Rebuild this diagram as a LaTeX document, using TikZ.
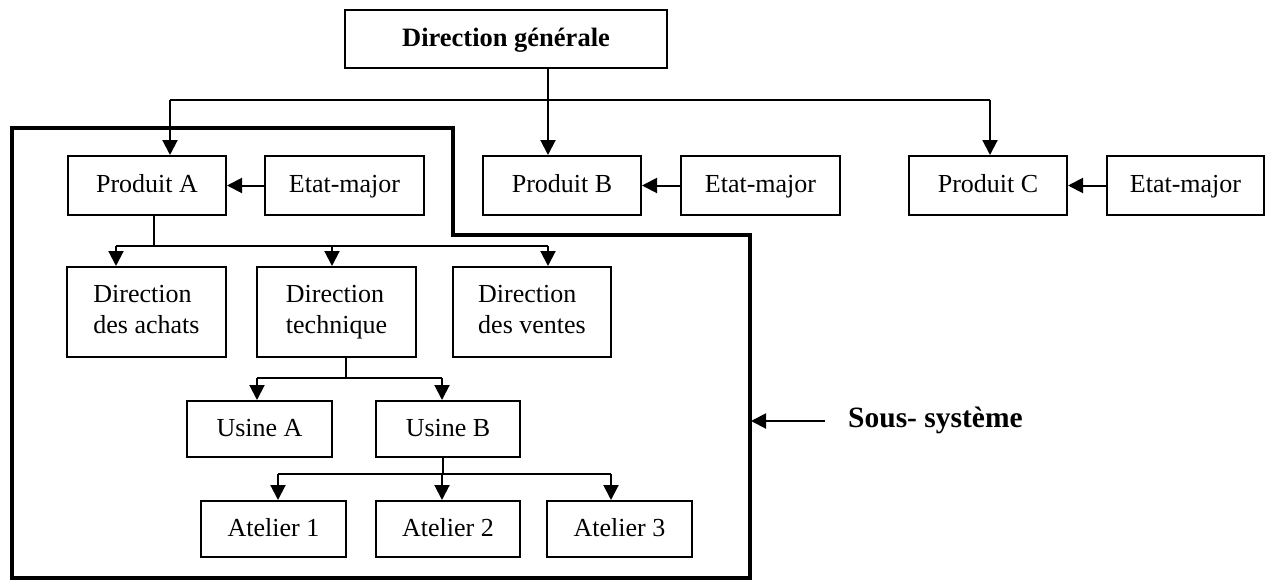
\documentclass[tikz,border=0pt]{standalone}
\usepackage{fontspec}
\setmainfont{Liberation Serif}
\usetikzlibrary{arrows.meta}
\tikzset{
  box/.style={draw, line width=2pt, rectangle, inner sep=0pt, align=left,
    font=\fontsize{26}{31}\selectfont},
  one/.style={box, text height=18pt, text depth=4pt},
  conn/.style={line width=2pt},
  arr/.style={line width=2pt, -{Triangle[length=15pt,width=15pt]}},
  frame/.style={line width=4pt, line join=miter},
}
\begin{document}
\begin{tikzpicture}[x=1pt,y=-1pt]
\useasboundingbox (0,0) rectangle (1265,581);
% top
\node[one, minimum width=322pt, minimum height=58pt, font=\fontsize{26.5}{31}\selectfont\bfseries] (dg) at (506,39) {Direction générale};
\node[one, minimum width=158pt, minimum height=59pt] (pa) at (147,185.5) {Produit A};
\node[one, minimum width=159pt, minimum height=59pt] (ea) at (344.5,185.5) {Etat-major};
\node[one, minimum width=158pt, minimum height=59pt] (pb) at (562,185.5) {Produit B};
\node[one, minimum width=159pt, minimum height=59pt] (eb) at (760.5,185.5) {Etat-major};
\node[one, minimum width=158pt, minimum height=59pt] (pc) at (988,185.5) {Produit C};
\node[one, minimum width=157pt, minimum height=59pt] (ec) at (1185.5,185.5) {Etat-major};
% directions
\node[box, minimum width=159pt, minimum height=90pt] (da) at (146.5,312) {Direction\strut\\des achats\strut};
\node[box, minimum width=159pt, minimum height=90pt] (dt) at (336.5,312) {Direction\strut\\technique\strut};
\node[box, minimum width=158pt, minimum height=90pt] (dv) at (532,312) {Direction\strut\\des ventes\strut};
% usines
\node[one, minimum width=145pt, minimum height=56pt] (ua) at (259.5,429) {Usine A};
\node[one, minimum width=144pt, minimum height=56pt] (ub) at (448,429) {Usine B};
% ateliers
\node[one, minimum width=145pt, minimum height=56pt] (a1) at (273.5,529) {Atelier 1};
\node[one, minimum width=144pt, minimum height=56pt] (a2) at (448,529) {Atelier 2};
\node[one, minimum width=145pt, minimum height=56pt] (a3) at (619.5,529) {Atelier 3};
% sous-systeme label
\node[anchor=base west, inner sep=0pt, font=\fontsize{29.5}{34}\selectfont\bfseries] (ss) at (848,427) {Sous- système};

% junction coordinates
\coordinate (j0) at (548,100);
\coordinate (j0L) at (170,100);
\coordinate (j0R) at (990,100);
\coordinate (j1) at (154,246);
\coordinate (j1L) at (116,246);
\coordinate (j1M) at (332,246);
\coordinate (j1R) at (548,246);
\coordinate (j2) at (346,378);
\coordinate (j2L) at (257,378);
\coordinate (j2R) at (442,378);
\coordinate (j3) at (443,474);
\coordinate (j3L) at (278,474);
\coordinate (j3M) at (442,474);
\coordinate (j3R) at (611,474);
\coordinate (sfree) at (825,421);
\coordinate (sframe) at (751,421);

% top connectors
\draw[conn] (dg.south -| j0) -- (j0);
\draw[conn] (j0L) -- (j0R);
\draw[arr] (j0) -- (j0 |- pb.north);
\draw[arr] (j0L) -- (j0L |- pa.north);
\draw[arr] (j0R) -- (j0R |- pc.north);
\draw[arr] (ea.west) -- (pa.east);
\draw[arr] (eb.west) -- (pb.east);
\draw[arr] (ec.west) -- (pc.east);

% produit A to directions
\draw[conn] (pa.south -| j1) -- (j1);
\draw[conn] (j1L) -- (j1R);
\draw[arr] (j1L) -- (j1L |- da.north);
\draw[arr] (j1M) -- (j1M |- dt.north);
\draw[arr] (j1R) -- (j1R |- dv.north);

% direction technique to usines
\draw[conn] (dt.south -| j2) -- (j2);
\draw[conn] (j2L) -- (j2R);
\draw[arr] (j2L) -- (j2L |- ua.north);
\draw[arr] (j2R) -- (j2R |- ub.north);

% usine B to ateliers
\draw[conn] (ub.south -| j3) -- (j3);
\draw[conn] (j3L) -- (j3R);
\draw[arr] (j3L) -- (j3L |- a1.north);
\draw[arr] (j3M) -- (j3M |- a2.north);
\draw[arr] (j3R) -- (j3R |- a3.north);

% sub-system frame
\draw[frame] (12,128) -- (453,128) -- (453,235) -- (750,235) -- (750,578) -- (12,578) -- cycle;
\draw[arr] (sfree) -- (sframe);
\end{tikzpicture}
\end{document}
